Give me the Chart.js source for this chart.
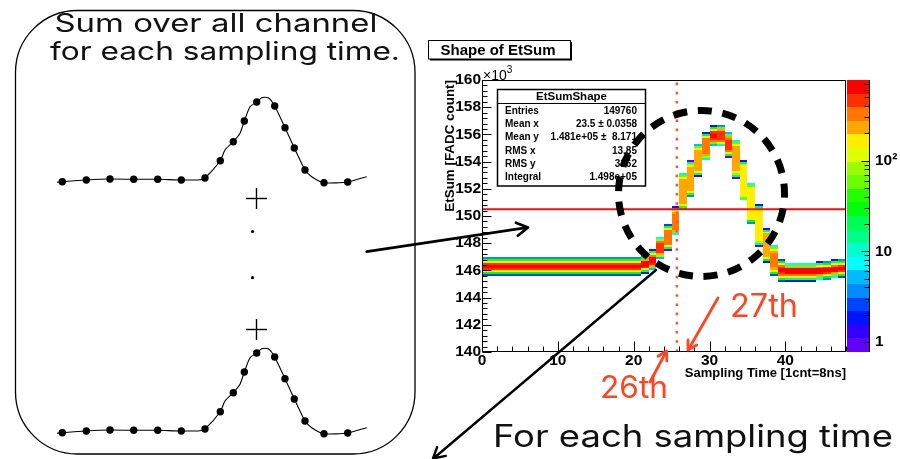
<!DOCTYPE html>
<html>
<head>
<meta charset="utf-8">
<script src="https://cdn.jsdelivr.net/npm/chart.js@4.4.0/dist/chart.umd.min.js"></script>
<style>
  html, body { margin: 0; padding: 0; background: #fff; }
  body { width: 900px; height: 459px; position: relative; overflow: hidden; }
  .box { position: absolute; }
  #main { left: 420px; top: 0; width: 480px; height: 459px; }
  #sk1 { left: 47px; top: 80px; width: 330px; height: 110px; }
  #sk2 { left: 47px; top: 331px; width: 330px; height: 110px; }
  #notes { position: absolute; left: 0; top: 0; }
</style>
</head>
<body>
<div class="box" id="sk1"><canvas id="sketchTop"></canvas></div>
<div class="box" id="sk2"><canvas id="sketchBottom"></canvas></div>
<div class="box" id="main"><canvas id="etsum"></canvas></div>

<svg id="notes" width="900" height="459" font-family="'Liberation Sans', Arial, sans-serif">
  <!-- slide box on the left -->
  <rect x="15.5" y="10.5" width="399.5" height="443.5" rx="62" fill="none" stroke="#000" stroke-width="1.3"/>
  <g font-family="Inter, 'DejaVu Sans', sans-serif" font-weight="400" fill="#111">
    <text x="54.5" y="31.7" font-size="25" textLength="323" lengthAdjust="spacingAndGlyphs">Sum over all channel</text>
    <text x="50" y="59.5" font-size="25" textLength="350" lengthAdjust="spacingAndGlyphs">for each sampling time.</text>
  </g>
  <g stroke="#000" stroke-width="1.4">
    <line x1="246" y1="198.5" x2="267" y2="198.5"/>
    <line x1="256.5" y1="188" x2="256.5" y2="209"/>
    <line x1="246" y1="329.5" x2="267" y2="329.5"/>
    <line x1="256.5" y1="319" x2="256.5" y2="340"/>
  </g>
  <circle cx="252.5" cy="231.5" r="1.6" fill="#000"/>
  <circle cx="252.5" cy="277.7" r="1.6" fill="#000"/>

  <!-- ROOT title pave -->
  <rect x="430" y="42" width="142" height="18.5" fill="#000"/>
  <rect x="428.5" y="40.5" width="142" height="18.5" fill="#fff" stroke="#000" stroke-width="1"/>
  <text x="498" y="54.5" font-size="15" font-weight="bold" text-anchor="middle">Shape of EtSum</text>

  <text x="483" y="80" font-size="14">×10<tspan dy="-7.5" font-size="10">3</tspan></text>

  <!-- stats box -->
  <rect x="497.5" y="89.5" width="148" height="96.5" fill="#fff" stroke="#000" stroke-width="1.5"/>
  <line x1="497.5" y1="103.5" x2="645.5" y2="103.5" stroke="#000" stroke-width="1.2"/>
  <g font-weight="bold" font-size="10">
    <text x="571.5" y="100" font-size="11.5" text-anchor="middle">EtSumShape</text>
    <text x="505" y="114">Entries</text>
    <text x="505" y="127.2">Mean x</text>
    <text x="505" y="140.4">Mean y</text>
    <text x="505" y="153.6">RMS x</text>
    <text x="505" y="166.8">RMS y</text>
    <text x="505" y="180">Integral</text>
    <g text-anchor="end">
      <text x="637" y="114">149760</text>
      <text x="637" y="127.2">23.5 ± 0.0358</text>
      <text x="637" y="140.4" xml:space="preserve">1.481e+05 ±  8.171</text>
      <text x="637" y="153.6">13.85</text>
      <text x="637" y="166.8">3162</text>
      <text x="637" y="180">1.498e+05</text>
    </g>
  </g>

  <!-- dashed circle -->
  <circle cx="701.5" cy="193.5" r="83" fill="none" stroke="#000" stroke-width="7" pathLength="21" stroke-dasharray="0.57 0.43" stroke-dashoffset="0.4"/>

  <!-- black arrows -->
  <g stroke="#000" fill="none" stroke-linecap="round" stroke-linejoin="round">
    <line x1="366.7" y1="251.7" x2="527" y2="227.6" stroke-width="2.7"/>
    <polyline points="517.8,235.7 528,227.5 515.9,222.7" stroke-width="2.7"/>
    <line x1="656" y1="270" x2="434" y2="458" stroke-width="2.4"/>
    <polyline points="445.8,455.9 433,458.5 437.1,447.2" stroke-width="2.4"/>
  </g>
  <!-- red annotations -->
  <g stroke="#ff4422" fill="none" stroke-width="2.8" stroke-linecap="round" stroke-linejoin="round">
    <line x1="650" y1="382" x2="666" y2="352"/>
    <polyline points="666.8,361 666.5,351 658,356.3"/>
    <line x1="718" y1="298" x2="689" y2="348.5"/>
    <polyline points="696.7,345 688,350 688,340"/>
  </g>
  <g fill="#ff4422" font-family="Inter, 'DejaVu Sans', sans-serif" font-weight="400">
    <text x="600" y="398.3" font-size="31" textLength="68" lengthAdjust="spacingAndGlyphs">26th</text>
    <text x="730" y="316.8" font-size="32" textLength="68" lengthAdjust="spacingAndGlyphs">27th</text>
  </g>
  <text x="493" y="447" font-size="30.5" fill="#111" font-family="Inter, 'DejaVu Sans', sans-serif" font-weight="400" textLength="400" lengthAdjust="spacingAndGlyphs">For each sampling time</text>
</svg>

<script>
Chart.defaults.font.family = "'Liberation Sans', Arial, sans-serif";
Chart.defaults.color = '#000';

// --- data ---
const samplingTime = [0, 1, 2, 3, 4, 5, 6, 7, 8, 9, 10, 11, 12, 13, 14, 15, 16, 17, 18, 19, 20, 21, 22, 23,
                      24, 25, 26, 27, 28, 29, 30, 31, 32, 33, 34, 35, 36, 37, 38, 39, 40, 41, 42, 43, 44, 45, 46, 47];
// centre of the EtSum band in each sampling bin (x10^3 FADC count)
const meanEtSum = [146.3, 146.3, 146.3, 146.3, 146.3, 146.3, 146.3, 146.3, 146.3, 146.3, 146.3,
                   146.3, 146.3, 146.3, 146.3, 146.3, 146.3, 146.3, 146.3, 146.3, 146.3,
                   146.45, 146.75, 147.65, 148.45, 149.6, 151.8, 152.75, 154.1, 155.1, 155.9,
                   155.9, 155.25, 154.2, 152.6, 150.95, 149.3, 147.85, 146.75, 146.0,
                   145.9, 145.9, 145.9, 145.9, 145.95, 146.0, 146.1, 146.15];
// half width of the flat (timing jitter) part of the band
const jitterHalfWidth = [0.12, 0.12, 0.12, 0.12, 0.12, 0.12, 0.12, 0.12, 0.12, 0.12, 0.12,
                         0.12, 0.12, 0.12, 0.12, 0.12, 0.12, 0.12, 0.12, 0.12, 0.12,
                         0.15, 0.35, 0.45, 0.62, 0.72, 1.07, 1.0, 0.87, 0.67, 0.4,
                         0.45, 0.55, 1.1, 1.17, 1.2, 1.2, 0.92, 0.8, 0.4,
                         0.12, 0.12, 0.12, 0.12, 0.12, 0.12, 0.12, 0.12];
// noise spread of the band edges
const noiseRms = [0.18, 0.18, 0.18, 0.18, 0.18, 0.18, 0.18, 0.18, 0.18, 0.18, 0.18,
                  0.18, 0.18, 0.18, 0.18, 0.18, 0.18, 0.18, 0.18, 0.18, 0.18,
                  0.17, 0.14, 0.12, 0.12, 0.12, 0.12, 0.12, 0.12, 0.12, 0.12,
                  0.12, 0.12, 0.12, 0.12, 0.12, 0.12, 0.12, 0.13, 0.15,
                  0.18, 0.18, 0.18, 0.18, 0.18, 0.18, 0.18, 0.18];
const entriesPerBin = 3120;          // 149760 entries / 48 bins
const thresholdEtSum = 150.5;
const timingMark = 25.7;

const xTickValues = [0, 10, 20, 30, 40];
const yTickValues = [140, 142, 144, 146, 148, 150, 152, 154, 156, 158, 160];
const zTickValues = [1, 10, 100];
const zTickLabels = ['1', '10', '10²'];
const zRange = [0.775, 773];

// hand drawn pulse on the left (time, amplitude)
const sketchT = [5.3, 29.3, 53, 76.7, 100.7, 124.3, 148, 163.3, 176.3, 187.3, 199.7, 217.7, 228, 237.3, 248, 267, 290.7];
const sketchA = [0.3, 2, 3, 2.7, 2.7, 2, 4, 21.3, 40.3, 61, 80, 76, 54.3, 34, 12, -0.7, 0];
const curveT = [0, 5.3, 29.3, 53, 76.7, 100.7, 124.3, 143, 148, 163.3, 168, 176.3, 183, 187.3, 193, 199.7,
                204.7, 211.3, 217.7, 228, 237.3, 243, 248, 254.7, 267, 290.7, 309.7];
const curveA = [-0.3, 0.3, 2, 3, 2.7, 2.7, 2, 2.3, 4, 21.3, 32, 40.3, 48.7, 61, 75.3, 80,
                84.3, 84.3, 76, 54.3, 34, 22, 12, 5.3, -0.7, 0, 5.3];

// --- binning / palette ---
const yMin = 140, yMax = 160, yBinCount = 140;
const binH = (yMax - yMin) / yBinCount;
const nContours = 20;
const lzMin = Math.log10(zRange[0]), lzMax = Math.log10(zRange[1]);

function erf(x) {
  const s = Math.sign(x); x = Math.abs(x);
  const t = 1 / (1 + 0.3275911 * x);
  const y = 1 - (((((1.061405429 * t - 1.453152027) * t) + 1.421413741) * t - 0.284496736) * t + 0.254829592) * t * Math.exp(-x * x);
  return s * y;
}
function phi(z) { return 0.5 * (1 + erf(z / Math.SQRT2)); }

function binContent(i, yc) {
  const c = meanEtSum[i], w = jitterHalfWidth[i], s = noiseRms[i];
  const dens = (phi((yc - c + w) / s) - phi((yc - c - w) / s)) / (2 * w);
  return entriesPerBin * binH * dens;
}
function contourLevel(n) {
  const k = Math.floor((Math.log10(n) - lzMin) / (lzMax - lzMin) * nContours);
  return Math.max(0, Math.min(nContours - 1, k));
}
// ROOT "pretty" palette (SetPalette(1))
function levelColor(k) {
  const p = Math.floor((k + 0.99) * 50 / nContours);
  const hue = 280 - (p + 1) * 280 / 50;
  return 'hsl(' + hue.toFixed(1) + ',100%,50%)';
}

const heatmapPlugin = {
  id: 'etsumHeatmap',
  beforeDatasetsDraw(chart) {
    const { ctx, chartArea: a, scales: { x, y } } = chart;
    ctx.save();
    ctx.beginPath();
    ctx.rect(a.left, a.top, a.width, a.height);
    ctx.clip();
    samplingTime.forEach((t, i) => {
      const x0 = Math.round(x.getPixelForValue(t));
      const x1 = Math.round(x.getPixelForValue(t + 1));
      for (let j = 0; j < yBinCount; j++) {
        const lo = yMin + j * binH;
        const n = binContent(i, lo + binH / 2);
        if (n < zRange[0]) continue;
        const y0 = Math.round(y.getPixelForValue(lo));
        const y1 = Math.round(y.getPixelForValue(lo + binH));
        ctx.fillStyle = levelColor(contourLevel(n));
        ctx.fillRect(x0, y1, x1 - x0, y0 - y1);
      }
    });
    ctx.restore();
  }
};

const framePlugin = {
  id: 'rootFrame',
  afterDraw(chart) {
    const { ctx, chartArea: a, scales: { x, y, z } } = chart;
    ctx.save();
    ctx.strokeStyle = '#000';
    ctx.lineWidth = 1;
    const L = Math.round(a.left) + 0.5, R = Math.round(a.right) - 0.5;
    const T = Math.round(a.top) + 0.5, B = Math.round(a.bottom) - 0.5;
    ctx.strokeRect(L, T, R - L, B - T);

    ctx.beginPath();
    for (let v = 0; v <= 48; v += 2) {
      const px = Math.round(x.getPixelForValue(v)) + 0.5;
      const len = xTickValues.includes(v) ? 10 : 5;
      ctx.moveTo(px, B); ctx.lineTo(px, B - len);
    }
    for (let k = 0; k <= 50; k++) {
      const v = yMin + k * 0.4;
      const py = Math.round(y.getPixelForValue(v)) + 0.5;
      const len = k % 5 === 0 ? 9 : 5;
      ctx.moveTo(L, py); ctx.lineTo(L + len, py);
    }
    ctx.stroke();

    // colour scale
    const cx0 = Math.round(z.left) + 1, cw = 23;
    for (let k = 0; k < nContours; k++) {
      const lo = Math.pow(10, lzMin + k * (lzMax - lzMin) / nContours);
      const hi = Math.pow(10, lzMin + (k + 1) * (lzMax - lzMin) / nContours);
      const y0 = Math.round(z.getPixelForValue(lo));
      const y1 = Math.round(z.getPixelForValue(hi));
      ctx.fillStyle = levelColor(k);
      ctx.fillRect(cx0, y1, cw, y0 - y1);
    }
    const zr = cx0 + cw - 0.5;
    ctx.beginPath();
    ctx.moveTo(zr, Math.round(a.top)); ctx.lineTo(zr, Math.round(a.bottom));
    for (let e = 0; e <= 2; e++) {
      for (let m = 1; m <= 9; m++) {
        const v = m * Math.pow(10, e);
        if (v < zRange[0] || v > zRange[1]) continue;
        const py = Math.round(z.getPixelForValue(v)) + 0.5;
        const len = m === 1 ? 8 : 5;
        ctx.moveTo(zr, py); ctx.lineTo(zr - len, py);
      }
    }
    ctx.stroke();
    ctx.restore();
  }
};

new Chart(document.getElementById('etsum'), {
  type: 'scatter',
  data: {
    datasets: [
      {
        label: 'threshold',
        data: [{ x: 0, y: thresholdEtSum }, { x: 48, y: thresholdEtSum }],
        showLine: true, borderColor: '#ee1111', borderWidth: 2, pointRadius: 0
      },
      {
        label: 'timing',
        data: [{ x: timingMark, y: yMin }, { x: timingMark, y: yMax }],
        showLine: true, borderColor: '#ff5533', borderWidth: 2.6, borderDash: [2.6, 6.6], pointRadius: 0
      }
    ]
  },
  options: {
    responsive: true,
    maintainAspectRatio: false,
    animation: false,
    layout: { padding: { top: 80, bottom: 67, left: 0, right: 0 } },
    plugins: { legend: { display: false }, tooltip: { enabled: false } },
    scales: {
      x: {
        type: 'linear', min: 0, max: 48,
        grid: { display: false }, border: { display: false },
        afterBuildTicks: s => { s.ticks = xTickValues.map(v => ({ value: v })); },
        afterFit: s => { s.height = 40; },
        ticks: { font: { size: 15.5, weight: 'bold' }, padding: -9, maxRotation: 0, autoSkip: false },
        title: { display: true, text: 'Sampling Time [1cnt=8ns]', align: 'end', font: { size: 13, weight: 'bold' }, padding: { top: 0, bottom: 11 } }
      },
      y: {
        type: 'linear', min: yMin, max: yMax,
        grid: { display: false }, border: { display: false },
        afterBuildTicks: s => { s.ticks = yTickValues.map(v => ({ value: v })); },
        afterFit: s => { s.width = 62; },
        ticks: { font: { size: 15.5, weight: 'bold' }, padding: -7, autoSkip: false },
        title: { display: true, text: 'EtSum [FADC count]', align: 'end', font: { size: 13.4, weight: 'bold' }, padding: { top: 22, bottom: 0 } }
      },
      z: {
        type: 'logarithmic', position: 'right', min: zRange[0], max: zRange[1],
        grid: { display: false }, border: { display: false },
        afterBuildTicks: s => { s.ticks = zTickValues.map(v => ({ value: v })); },
        afterFit: s => { s.width = 54; },
        ticks: {
          font: { size: 15.5, weight: 'bold' }, padding: 21, autoSkip: false,
          callback: v => zTickLabels[zTickValues.indexOf(v)]
        }
      }
    }
  },
  plugins: [heatmapPlugin, framePlugin]
});

function drawSketch(id) {
  new Chart(document.getElementById(id), {
    type: 'scatter',
    data: {
      datasets: [
        {
          data: curveT.map((t, i) => ({ x: t, y: curveA[i] })),
          showLine: true, borderColor: '#000', borderWidth: 1.1, pointRadius: 0, tension: 0.2
        },
        {
          data: sketchT.map((t, i) => ({ x: t, y: sketchA[i] })),
          showLine: false, pointRadius: 3.7, pointBackgroundColor: '#000', pointBorderWidth: 0
        }
      ]
    },
    options: {
      responsive: true, maintainAspectRatio: false, animation: false,
      layout: { padding: 0, autoPadding: false },
      plugins: { legend: { display: false }, tooltip: { enabled: false } },
      scales: {
        x: { type: 'linear', display: false, min: -10, max: 320 },
        y: { type: 'linear', display: false, min: -8, max: 102 }
      }
    }
  });
}
drawSketch('sketchTop');
drawSketch('sketchBottom');
</script>
</body>
</html>
